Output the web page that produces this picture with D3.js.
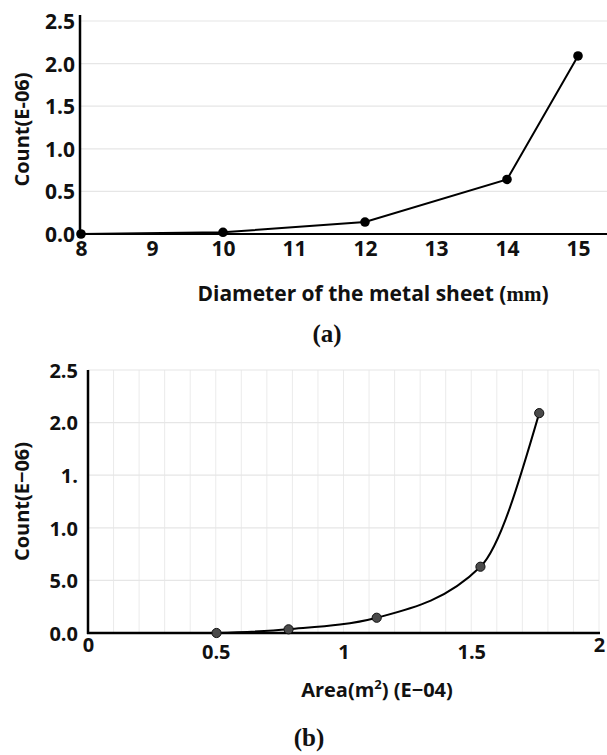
<!DOCTYPE html>
<html>
<head>
<meta charset="utf-8">
<script src="https://cdn.jsdelivr.net/npm/d3@7"></script>
<style>
  html, body { margin: 0; padding: 0; background: #fff; }
  svg { display: block; }
  text { fill: #111; }
</style>
</head>
<body>
<svg id="chart" width="607" height="755"></svg>
<script>
// ---------- Data: panel (a) ----------
const diametersA = [8, 10, 12, 14, 15];
const countsA = [0, 0.02, 0.14, 0.64, 2.09];
const xTicksA = [8, 9, 10, 11, 12, 13, 14, 15];
const yTicksA = [0, 0.5, 1.0, 1.5, 2.0, 2.5];
const yTickLabelsA = ["0.0", "0.5", "1.0", "1.5", "2.0", "2.5"];

// ---------- Data: panel (b) ----------
const areasB = [0.503, 0.785, 1.13, 1.536, 1.766];
const countsB = [0, 0.035, 0.145, 0.63, 2.09];
const xTicksB = [0, 0.5, 1, 1.5, 2];
const xTickLabelsB = ["0", "0.5", "1", "1.5", "2"];
const yTicksB = [0, 0.5, 1.0, 1.5, 2.0, 2.5];
const yTickLabelsB = ["0.0", "5.0", "1.0", "1.", "2.0", "2.5"];
const xGridB = d3.range(1, 21).map(i => i / 10);

const svg = d3.select("#chart");
const FONT = "'Open Sans', 'Noto Sans', sans-serif";
const SERIF = "'Liberation Serif', 'DejaVu Serif', serif";

// ================= Panel (a) =================
const xA = d3.scaleLinear().domain([8, 15]).range([81, 578]);
const yA = d3.scaleLinear().domain([0, 2.5]).range([234, 21]);
const gA = svg.append("g");

// horizontal gridlines
gA.append("g").selectAll("line").data(yTicksA.filter(d => d > 0)).join("line")
  .attr("x1", xA(8) - 1).attr("x2", 607)
  .attr("y1", d => yA(d)).attr("y2", d => yA(d))
  .attr("stroke", "#e6e6e6").attr("stroke-width", 1.2);

// axes lines
gA.append("line").attr("x1", xA(8) - 1).attr("x2", xA(8) - 1)
  .attr("y1", yA(2.5) - 6).attr("y2", yA(0) + 1)
  .attr("stroke", "#000").attr("stroke-width", 2.5);
gA.append("line").attr("x1", xA(8) - 2).attr("x2", 607)
  .attr("y1", yA(0)).attr("y2", yA(0))
  .attr("stroke", "#000").attr("stroke-width", 2.2);

// y tick labels
const yAxisA = d3.axisLeft(yA).tickValues(yTicksA).tickSize(0)
  .tickFormat((d, i) => yTickLabelsA[i]);
const yAxA = gA.append("g").attr("transform", `translate(${xA(8) - 1},0)`).call(yAxisA);
yAxA.select(".domain").remove();
yAxA.selectAll("text").attr("x", -5).attr("dy", "0.36em")
  .style("font-family", FONT).style("font-weight", 700).style("font-size", "21px").style("fill", "#111");

// x tick labels
const xAxisA = d3.axisBottom(xA).tickValues(xTicksA).tickSize(0).tickFormat(d3.format("d"));
const xAxA = gA.append("g").attr("transform", `translate(0,${yA(0)})`).call(xAxisA);
xAxA.select(".domain").remove();
xAxA.selectAll("text").attr("y", 7).attr("dy", "0.71em")
  .style("font-family", FONT).style("font-weight", 700).style("font-size", "21px").style("fill", "#111");

// line + markers
gA.append("path").datum(diametersA.map((d, i) => [d, countsA[i]]))
  .attr("fill", "none").attr("stroke", "#000").attr("stroke-width", 2)
  .attr("d", d3.line().x(d => xA(d[0])).y(d => yA(d[1])));
gA.append("g").selectAll("circle").data(diametersA.map((d, i) => [d, countsA[i]])).join("circle")
  .attr("cx", d => xA(d[0])).attr("cy", d => yA(d[1])).attr("r", 4.8)
  .attr("fill", "#000");

// axis titles
gA.append("text").attr("transform", `translate(29,${(yA(0) + yA(2.5)) / 2 + 2}) rotate(-90)`)
  .attr("text-anchor", "middle")
  .style("font-family", FONT).style("font-weight", 700).style("font-size", "20px")
  .text("Count(E-06)");

const tA = gA.append("text").attr("x", 373).attr("y", 301).attr("text-anchor", "middle")
  .style("font-family", FONT).style("font-weight", 700).style("font-size", "21px");
tA.append("tspan").text("Diameter of the metal sheet (");
tA.append("tspan").style("font-family", SERIF).style("font-weight", 700).text("mm");
tA.append("tspan").text(")");

svg.append("text").attr("x", 327).attr("y", 342).attr("text-anchor", "middle")
  .style("font-family", SERIF).style("font-weight", 700).style("font-size", "25px")
  .text("(a)");

// ================= Panel (b) =================
const xB = d3.scaleLinear().domain([0, 2]).range([88, 599]);
const yB = d3.scaleLinear().domain([0, 2.5]).range([633, 370]);
const gB = svg.append("g");

// gridlines
gB.append("g").selectAll("line").data(xGridB).join("line")
  .attr("x1", d => xB(d)).attr("x2", d => xB(d))
  .attr("y1", yB(2.5)).attr("y2", yB(0))
  .attr("stroke", "#ebebeb").attr("stroke-width", 1);
gB.append("g").selectAll("line").data(yTicksB.filter(d => d > 0)).join("line")
  .attr("x1", xB(0)).attr("x2", xB(2))
  .attr("y1", d => yB(d)).attr("y2", d => yB(d))
  .attr("stroke", "#e6e6e6").attr("stroke-width", 1.2);

// axis lines
gB.append("line").attr("x1", xB(0)).attr("x2", xB(0))
  .attr("y1", yB(2.5)).attr("y2", yB(0) + 1)
  .attr("stroke", "#000").attr("stroke-width", 2.5);
gB.append("line").attr("x1", xB(0) - 1).attr("x2", xB(2) + 1)
  .attr("y1", yB(0)).attr("y2", yB(0))
  .attr("stroke", "#000").attr("stroke-width", 2.5);

// y tick labels
const yAxisB = d3.axisLeft(yB).tickValues(yTicksB).tickSize(0)
  .tickFormat((d, i) => yTickLabelsB[i]);
const yAxB = gB.append("g").attr("transform", `translate(${xB(0)},0)`).call(yAxisB);
yAxB.select(".domain").remove();
yAxB.selectAll("text").attr("x", -10).attr("dy", "0.36em")
  .style("font-family", FONT).style("font-weight", 700).style("font-size", "20px").style("fill", "#111");

// x tick labels
const xAxisB = d3.axisBottom(xB).tickValues(xTicksB).tickSize(0)
  .tickFormat((d, i) => xTickLabelsB[i]);
const xAxB = gB.append("g").attr("transform", `translate(0,${yB(0)})`).call(xAxisB);
xAxB.select(".domain").remove();
xAxB.selectAll("text").attr("y", (d, i) => (i === 0 || i === 4) ? 5 : 12).attr("dy", "0.71em")
  .style("font-family", FONT).style("font-weight", 700).style("font-size", "20px").style("fill", "#111");

// smooth curve + markers
const ptsB = areasB.map((d, i) => [d, countsB[i]]);
gB.append("path").datum(ptsB)
  .attr("fill", "none").attr("stroke", "#000").attr("stroke-width", 2)
  .attr("d", d3.line().curve(d3.curveMonotoneX).x(d => xB(d[0])).y(d => yB(d[1])));
gB.append("g").selectAll("circle").data(ptsB).join("circle")
  .attr("cx", d => xB(d[0])).attr("cy", d => yB(d[1])).attr("r", 4.6)
  .attr("fill", "#4a4a4a").attr("stroke", "#111").attr("stroke-width", 1);

// axis titles
gB.append("text").attr("transform", `translate(29,${(yB(0) + yB(2.5)) / 2}) rotate(-90)`)
  .attr("text-anchor", "middle")
  .style("font-family", FONT).style("font-weight", 700).style("font-size", "20px")
  .text("Count(E−06)");

const tB = gB.append("text").attr("x", 377).attr("y", 697).attr("text-anchor", "middle")
  .style("font-family", FONT).style("font-weight", 700).style("font-size", "20px");
tB.append("tspan").text("Area(m");
tB.append("tspan").attr("dy", -8).style("font-size", "13px").text("2");
tB.append("tspan").attr("dy", 8).text(") (E−04)");

svg.append("text").attr("x", 309).attr("y", 746).attr("text-anchor", "middle")
  .style("font-family", SERIF).style("font-weight", 700).style("font-size", "25px")
  .text("(b)");
</script>
</body>
</html>
